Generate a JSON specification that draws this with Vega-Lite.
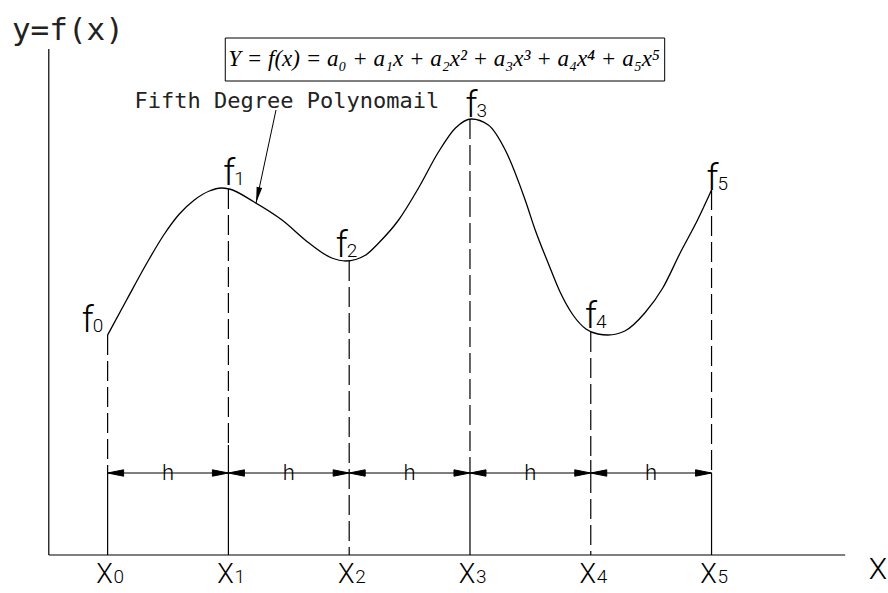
{
  "$schema": "https://vega.github.io/schema/vega-lite/v6.json",
  "width": 888,
  "height": 593,
  "autosize": {"type": "fit", "contains": "padding"},
  "padding": 0,
  "background": "white",
  "config": {"view": {"stroke": null}},
  "datasets": {
    "curve": [
      {"u": 0, "v": 258}, {"u": 0.157, "v": 293}, {"u": 0.33, "v": 331}, {"u": 0.47, "v": 359},
      {"u": 0.594, "v": 379}, {"u": 0.718, "v": 393}, {"u": 0.842, "v": 402}, {"u": 0.941, "v": 405},
      {"u": 1.007, "v": 404}, {"u": 1.213, "v": 391},
      {"u": 1.444, "v": 373}, {"u": 1.667, "v": 350}, {"u": 1.856, "v": 335}, {"u": 1.972, "v": 332},
      {"u": 2.137, "v": 338}, {"u": 2.244, "v": 350}, {"u": 2.409, "v": 373}, {"u": 2.574, "v": 405},
      {"u": 2.739, "v": 441}, {"u": 2.88, "v": 465}, {"u": 3.012, "v": 474}, {"u": 3.152, "v": 468},
      {"u": 3.292, "v": 443}, {"u": 3.457, "v": 393}, {"u": 3.54, "v": 363}, {"u": 3.647, "v": 330},
      {"u": 3.746, "v": 301}, {"u": 3.853, "v": 278}, {"u": 3.96, "v": 264}, {"u": 4.059, "v": 259},
      {"u": 4.142, "v": 258}, {"u": 4.282, "v": 262}, {"u": 4.447, "v": 280}, {"u": 4.596, "v": 305},
      {"u": 4.744, "v": 341}, {"u": 4.884, "v": 373}, {"u": 5.0, "v": 403}
    ],
    "vsegs": [
      {"u": -0.487, "a": 544, "b": 38, "s": "solid"},
      {"u": 0, "a": 258, "b": 120, "s": "dash"}, {"u": 0, "a": 120, "b": 38, "s": "solid"},
      {"u": 1, "a": 404, "b": 148, "s": "dash"}, {"u": 1, "a": 148, "b": 38, "s": "solid"},
      {"u": 2, "a": 332, "b": 38, "s": "dash"},
      {"u": 3, "a": 474, "b": 120, "s": "dash"}, {"u": 3, "a": 120, "b": 38, "s": "solid"},
      {"u": 4, "a": 261, "b": 133, "s": "dash"}, {"u": 4, "a": 133, "b": 120, "s": "solid"}, {"u": 4, "a": 120, "b": 38, "s": "dash"},
      {"u": 5, "a": 403, "b": 120, "s": "dash"}, {"u": 5, "a": 120, "b": 38, "s": "solid"}
    ],
    "hsegs": [
      {"a": -0.487, "b": 6.106, "v": 38},
      {"a": 0, "b": 5, "v": 120}
    ],
    "box": [{"a": 0.974, "b": 4.612, "top": 555, "bot": 512}],
    "leader": [{"a": 1.394, "v1": 483, "b": 1.229, "v2": 390}],
    "arrows": [
      {"u": 0, "v": 120, "dir": "left"}, {"u": 1, "v": 120, "dir": "right"},
      {"u": 1, "v": 120, "dir": "left"}, {"u": 2, "v": 120, "dir": "right"},
      {"u": 2, "v": 120, "dir": "left"}, {"u": 3, "v": 120, "dir": "right"},
      {"u": 3, "v": 120, "dir": "left"}, {"u": 4, "v": 120, "dir": "right"},
      {"u": 4, "v": 120, "dir": "left"}, {"u": 5, "v": 120, "dir": "right"}
    ],
    "flabels": [
      {"u": -0.165, "v": 261, "sub": "0"},
      {"u": 1.007, "v": 408, "sub": "1"},
      {"u": 1.939, "v": 336, "sub": "2"},
      {"u": 3.012, "v": 476, "sub": "3"},
      {"u": 4.002, "v": 265, "sub": "4"},
      {"u": 5.008, "v": 403, "sub": "5"}
    ],
    "xlabels": [
      {"u": 0, "v": 10, "sub": "0"}, {"u": 1, "v": 10, "sub": "1"}, {"u": 2, "v": 10, "sub": "2"},
      {"u": 3, "v": 10, "sub": "3"}, {"u": 4, "v": 10, "sub": "4"}, {"u": 5, "v": 10, "sub": "5"}
    ],
    "hlabels": [
      {"u": 0.5, "v": 120}, {"u": 1.5, "v": 120}, {"u": 2.5, "v": 120}, {"u": 3.5, "v": 120}, {"u": 4.5, "v": 120}
    ],
    "titles": [{"u": -0.792, "v": 553, "t": "y=f(x)"}],
    "note": [{"u": 0.223, "v": 485, "t": "Fifth Degree Polynomail"}],
    "eq": [{"u": 2.785, "v": 527, "t": "Y = f(x) = a₀ + a₁x + a₂x² + a₃x³ + a₄x⁴ + a₅x⁵"}],
    "xname": [{"u": 6.302, "v": 14, "t": "X"}]
  },
  "layer": [
    {
      "data": {"name": "box"},
      "mark": {"type": "rect", "fill": null, "stroke": "black", "strokeWidth": 1},
      "encoding": {
        "x": {"field": "a", "type": "quantitative", "scale": {"domain": [-0.891, 6.436], "nice": false, "zero": false}, "axis": null},
        "x2": {"field": "b"},
        "y": {"field": "top", "type": "quantitative", "scale": {"domain": [0, 593], "nice": false, "zero": false}, "axis": null},
        "y2": {"field": "bot"}
      }
    },
    {
      "data": {"name": "curve"},
      "mark": {"type": "line", "interpolate": "monotone", "stroke": "black", "strokeWidth": 1.3},
      "encoding": {
        "x": {"field": "u", "type": "quantitative"},
        "y": {"field": "v", "type": "quantitative"}
      }
    },
    {
      "data": {"name": "vsegs"},
      "mark": {"type": "rule", "stroke": "black", "strokeWidth": 1.2},
      "encoding": {
        "x": {"field": "u", "type": "quantitative"},
        "y": {"field": "a", "type": "quantitative"},
        "y2": {"field": "b"},
        "strokeDash": {"field": "s", "type": "nominal", "scale": {"domain": ["solid", "dash"], "range": [[1, 0], [20, 6]]}, "legend": null}
      }
    },
    {
      "data": {"name": "hsegs"},
      "mark": {"type": "rule", "stroke": "black", "strokeWidth": 1.2},
      "encoding": {
        "x": {"field": "a", "type": "quantitative"},
        "x2": {"field": "b"},
        "y": {"field": "v", "type": "quantitative"}
      }
    },
    {
      "data": {"name": "leader"},
      "mark": {"type": "rule", "stroke": "black", "strokeWidth": 1},
      "encoding": {
        "x": {"field": "a", "type": "quantitative"},
        "y": {"field": "v1", "type": "quantitative"},
        "x2": {"field": "b"},
        "y2": {"field": "v2"}
      }
    },
    {
      "data": {"name": "leader"},
      "mark": {"type": "point", "shape": "M0,0 L-2,-0.35 L-2,0.35 Z", "filled": true, "fill": "black", "size": 256, "angle": 102, "opacity": 1},
      "encoding": {
        "x": {"field": "b", "type": "quantitative"},
        "y": {"field": "v2", "type": "quantitative"}
      }
    },
    {
      "data": {"name": "arrows"},
      "mark": {"type": "point", "filled": false, "stroke": "black", "strokeWidth": 1, "size": 256, "opacity": 1},
      "encoding": {
        "x": {"field": "u", "type": "quantitative"},
        "y": {"field": "v", "type": "quantitative"},
        "shape": {"field": "dir", "type": "nominal", "scale": {"domain": ["right", "left"], "range": ["M0,0 L-2,-0.4 L-2,0.4 Z", "M0,0 L2,-0.4 L2,0.4 Z"]}, "legend": null}
      }
    },
    {
      "data": {"name": "arrows"},
      "mark": {"type": "point", "filled": true, "fill": "black", "size": 256, "opacity": 1},
      "encoding": {
        "x": {"field": "u", "type": "quantitative"},
        "y": {"field": "v", "type": "quantitative"},
        "shape": {"field": "dir", "type": "nominal", "scale": {"domain": ["right", "left"], "range": ["M0,0 L-2,-0.4 L-2,0 Z", "M0,0 L2,-0.4 L2,0 Z"]}, "legend": null}
      }
    },
    {
      "data": {"name": "flabels"},
      "mark": {"type": "text", "text": "f", "font": "Roboto", "fontWeight": 300, "fontSize": 36, "align": "center", "baseline": "alphabetic", "fill": "black"},
      "encoding": {
        "x": {"field": "u", "type": "quantitative"},
        "y": {"field": "v", "type": "quantitative"}
      }
    },
    {
      "data": {"name": "flabels"},
      "mark": {"type": "text", "font": "Roboto", "fontWeight": 300, "fontSize": 19, "align": "left", "baseline": "alphabetic", "dx": 5, "fill": "black"},
      "encoding": {
        "x": {"field": "u", "type": "quantitative"},
        "y": {"field": "v", "type": "quantitative"},
        "text": {"field": "sub"}
      }
    },
    {
      "data": {"name": "xlabels"},
      "mark": {"type": "text", "text": "X", "font": "Roboto", "fontWeight": 300, "fontSize": 27, "align": "center", "baseline": "alphabetic", "dx": -3, "fill": "black"},
      "encoding": {
        "x": {"field": "u", "type": "quantitative"},
        "y": {"field": "v", "type": "quantitative"}
      }
    },
    {
      "data": {"name": "xlabels"},
      "mark": {"type": "text", "font": "Roboto", "fontWeight": 300, "fontSize": 19, "align": "left", "baseline": "alphabetic", "dx": 6, "fill": "black"},
      "encoding": {
        "x": {"field": "u", "type": "quantitative"},
        "y": {"field": "v", "type": "quantitative"},
        "text": {"field": "sub"}
      }
    },
    {
      "data": {"name": "hlabels"},
      "mark": {"type": "text", "text": "h", "font": "Roboto", "fontWeight": 300, "fontSize": 22, "align": "center", "baseline": "middle", "fill": "black"},
      "encoding": {
        "x": {"field": "u", "type": "quantitative"},
        "y": {"field": "v", "type": "quantitative"}
      }
    },
    {
      "data": {"name": "titles"},
      "mark": {"type": "text", "font": "DejaVu Sans Mono", "fontSize": 31, "align": "left", "baseline": "alphabetic", "fill": "#222222"},
      "encoding": {
        "x": {"field": "u", "type": "quantitative"},
        "y": {"field": "v", "type": "quantitative"},
        "text": {"field": "t"}
      }
    },
    {
      "data": {"name": "note"},
      "mark": {"type": "text", "font": "DejaVu Sans Mono", "fontSize": 22, "align": "left", "baseline": "alphabetic", "fill": "#222222"},
      "encoding": {
        "x": {"field": "u", "type": "quantitative"},
        "y": {"field": "v", "type": "quantitative"},
        "text": {"field": "t"}
      }
    },
    {
      "data": {"name": "eq"},
      "mark": {"type": "text", "font": "Liberation Serif", "fontStyle": "italic", "fontSize": 23, "align": "center", "baseline": "alphabetic", "fill": "black"},
      "encoding": {
        "x": {"field": "u", "type": "quantitative"},
        "y": {"field": "v", "type": "quantitative"},
        "text": {"field": "t"}
      }
    },
    {
      "data": {"name": "xname"},
      "mark": {"type": "text", "font": "Roboto", "fontWeight": 300, "fontSize": 30, "align": "left", "baseline": "alphabetic", "fill": "black"},
      "encoding": {
        "x": {"field": "u", "type": "quantitative"},
        "y": {"field": "v", "type": "quantitative"},
        "text": {"field": "t"}
      }
    }
  ]
}
